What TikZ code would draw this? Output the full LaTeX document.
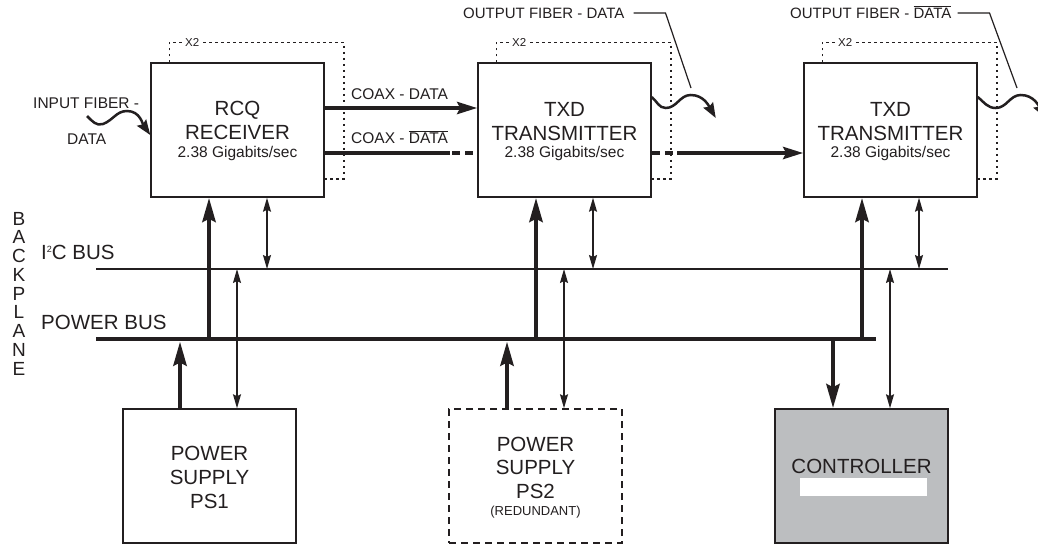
\documentclass[tikz,border=0pt]{standalone}
\usepackage{fontspec}
\setmainfont{Liberation Sans}
\usetikzlibrary{arrows.meta}
\definecolor{ink}{HTML}{231F20}
\definecolor{ctrlgray}{HTML}{BCBEC0}
\newcommand\setfs[1]{\fontsize{#1pt}{#1pt}\selectfont}
\newcommand\ovl[1]{$\overline{\mbox{#1}}$}
\tikzset{
  tA/.tip={Stealth[length=24pt,width=13pt,inset=3pt]},
  tB/.tip={Stealth[length=14pt,width=8pt,inset=2pt]},
  tC/.tip={Stealth[length=20pt,width=12pt,inset=3pt]},
  tD/.tip={Stealth[length=15pt,width=11pt,inset=2pt]},
  box/.style={draw=ink, line width=1.5pt, inner sep=0pt, minimum width=173pt, minimum height=134pt},
  txt/.style={anchor=base, inner sep=0pt, text=ink, font=\setfs{20.5}},
  lbl/.style={anchor=base west, inner sep=0pt, text=ink, font=\setfs{15.5}},
  xtwo/.style={fill=white, inner sep=1.5pt, text=ink, font=\setfs{11.5}},
  thk/.style={draw=ink, line width=4.5pt, -{tA}},
  thn/.style={draw=ink, line width=1.5pt, {tB}-{tB}},
  coax/.style={draw=ink, line width=4pt},
  coaxdash/.style={draw=ink, line width=4pt, dash pattern=on 8pt off 5pt},
  fiber/.style={draw=ink, line width=2.5pt, -{tD}},
  leader/.style={draw=ink, line width=1.2pt},
  frame/.style={draw=ink, line width=1.5pt, dash pattern=on 2.5pt off 3.5pt},
  ibus/.style={draw=ink, line width=1.2pt},
  pbus/.style={draw=ink, line width=4.5pt},
}
\begin{document}
\begin{tikzpicture}[x=1pt,y=-1pt]
\useasboundingbox (0,0) rectangle (1038,546);
\fill[white] (0,0) rectangle (1038,546);

% boxes
\node[box] (rcq) at (237.5,130) {};
\node[box] (txd1) at (564.5,130) {};
\node[box] (txd2) at (890.5,130) {};
\node[box] (ps1) at (209.5,476) {};
\node[box, dash pattern=on 7pt off 5pt] (ps2) at (535.5,476) {};
\node[box, fill=ctrlgray] (ctrl) at (861.5,476) {};
\node[fill=white, inner sep=0pt, minimum width=127pt, minimum height=18pt] (ctrlbar) at (863.5,487) {};

% box texts
\node[txt] (rcqA) at (237.5,115) {RCQ};
\node[txt] (rcqB) at (237.5,139) {RECEIVER};
\node[txt, font=\setfs{15.5}] (rcqC) at (237.5,157) {2.38 Gigabits/sec};
\node[txt] (txa1) at (564.5,116) {TXD};
\node[txt] (txb1) at (564.5,140) {TRANSMITTER};
\node[txt, font=\setfs{15.5}] (txc1) at (564.5,157) {2.38 Gigabits/sec};
\node[txt] (txa2) at (890.5,116) {TXD};
\node[txt] (txb2) at (890.5,140) {TRANSMITTER};
\node[txt, font=\setfs{15.5}] (txc2) at (890.5,157) {2.38 Gigabits/sec};
\node[txt] (psa1) at (209.5,460) {POWER};
\node[txt] (psb1) at (209.5,484) {SUPPLY};
\node[txt] (psc1) at (209.5,508) {PS1};
\node[txt] (psa2) at (535.5,451) {POWER};
\node[txt] (psb2) at (535.5,474) {SUPPLY};
\node[txt] (psc2) at (535.5,498) {PS2};
\node[txt, font=\setfs{13}] (psd2) at (535.5,515) {(REDUNDANT)};
\node[txt] (ctrlT) at (861.5,473) {CONTROLLER};

% dotted X2 frames
\draw[frame] ([xshift=19pt]rcq.north west) |- ([xshift=19pt,yshift=20pt]rcq.north east) |- ([yshift=19pt]rcq.south east);
\draw[frame] ([xshift=19pt]txd1.north west) |- ([xshift=19pt,yshift=20pt]txd1.north east) |- ([yshift=19pt]txd1.south east);
\draw[frame] ([xshift=19pt]txd2.north west) |- ([xshift=19pt,yshift=20pt]txd2.north east) |- ([yshift=19pt]txd2.south east);
\node[xtwo] (x2a) at ([xshift=42pt,yshift=20pt]rcq.north west) {X2};
\node[xtwo] (x2b) at ([xshift=42pt,yshift=20pt]txd1.north west) {X2};
\node[xtwo] (x2c) at ([xshift=42pt,yshift=20pt]txd2.north west) {X2};

% coax lines
\coordinate (yD) at (0,108);
\coordinate (yDb) at (0,153);
\coordinate (brk1) at (450,153);
\coordinate (brk2) at (677,153);
\draw[coax, -{tC}] (yD -| rcq.east) -- (yD -| txd1.west);
\draw[coax] (yDb -| rcq.east) -- (brk1);
\draw[coaxdash] (brk1) ++(2,0) -- (yDb -| txd1.west);
\draw[coaxdash] (yDb -| txd1.east) -- (brk2);
\draw[coax, -{tC}] (brk2) -- (yDb -| txd2.west);
\node[lbl] (coaxA) at (351,99) {COAX - DATA};
\node[lbl] (coaxB) at (351,143) {COAX - \ovl{DATA}};

% fibers
\coordinate (inF) at (87,116);
\draw[fiber] (inF) to[out=-45,in=200] ++(16,8) to[out=20,in=180] ++(24,-13) to[out=0,in=125] ([yshift=-5pt]rcq.west);
\node[lbl] (inA) at (33,108) {INPUT FIBER -};
\node[lbl] (inB) at (67,144) {DATA};
\draw[fiber] ([yshift=33pt]txd1.east) to[out=-40,in=180] ++(14,11) to[out=0,in=180] ++(25,-13) to[out=0,in=120] ++(25,23);
\draw[fiber] ([yshift=33pt]txd2.east) to[out=-40,in=180] ++(18,11) to[out=0,in=180] ++(25,-13) to[out=0,in=120] ++(25,23);
\node[lbl, font=\setfs{15}] (outA) at (463,18) {OUTPUT FIBER - DATA};
\node[lbl, font=\setfs{15}] (outB) at (790,18) {OUTPUT FIBER - \ovl{DATA}};
\draw[leader] ([xshift=9pt,yshift=5pt]outA.base east) -- ++(32,0) -- (691,88);
\draw[leader] ([xshift=6pt,yshift=5pt]outB.base east) -- ++(32,0) -- (1017,88);

% buses
\coordinate (i2cL) at (96,269);
\coordinate (i2cR) at (948,269);
\coordinate (pbL) at (96,339);
\coordinate (pbR) at (876,339);
\coordinate (pbB) at (96,341.5);
\draw[ibus] (i2cL) -- (i2cR);
\draw[pbus] (pbL) -- (pbR);
\node[anchor=base west, inner sep=0pt, text=ink, font=\setfs{20.5}] (i2cT) at (41,259) {I\raisebox{7pt}{\setfs{9}2}C BUS};
\node[anchor=base west, inner sep=0pt, text=ink, font=\setfs{20.5}] (pbT) at (41,329) {POWER BUS};
\node[inner sep=0pt, text=ink, align=center, font={\fontsize{19pt}{18.75pt}\selectfont}] (bp) at (19,293.5) {B\\A\\C\\K\\P\\L\\A\\N\\E};

% connection points
\coordinate (rcqP) at ([xshift=-28.5pt]rcq.south);
\coordinate (rcqI) at ([xshift=29.5pt]rcq.south);
\coordinate (tx1P) at ([xshift=-28.5pt]txd1.south);
\coordinate (tx1I) at ([xshift=28.5pt]txd1.south);
\coordinate (tx2P) at ([xshift=-28.5pt]txd2.south);
\coordinate (tx2I) at ([xshift=28.5pt]txd2.south);
\coordinate (ps1P) at ([xshift=-29.5pt]ps1.north);
\coordinate (ps1I) at ([xshift=27.5pt]ps1.north);
\coordinate (ps2P) at ([xshift=-28.5pt]ps2.north);
\coordinate (ps2I) at ([xshift=28.5pt]ps2.north);
\coordinate (ctrlP) at ([xshift=-28.5pt]ctrl.north);
\coordinate (ctrlI) at ([xshift=28.5pt]ctrl.north);

% power arrows
\draw[thk] (rcqP |- pbL) -- (rcqP);
\draw[thk] (tx1P |- pbL) -- (tx1P);
\draw[thk] (tx2P |- pbL) -- (tx2P);
\draw[thk] (ps1P) -- (ps1P |- pbB);
\draw[thk] (ps2P) -- (ps2P |- pbB);
\draw[thk] (ctrlP |- pbL) -- (ctrlP);

% I2C arrows
\draw[thn] (rcqI) -- (rcqI |- i2cL);
\draw[thn] (tx1I) -- (tx1I |- i2cL);
\draw[thn] (tx2I) -- (tx2I |- i2cL);
\draw[thn] (ps1I) -- (ps1I |- i2cL);
\draw[thn] (ps2I) -- (ps2I |- i2cL);
\draw[thn] (ctrlI) -- (ctrlI |- i2cL);
\end{tikzpicture}
\end{document}
